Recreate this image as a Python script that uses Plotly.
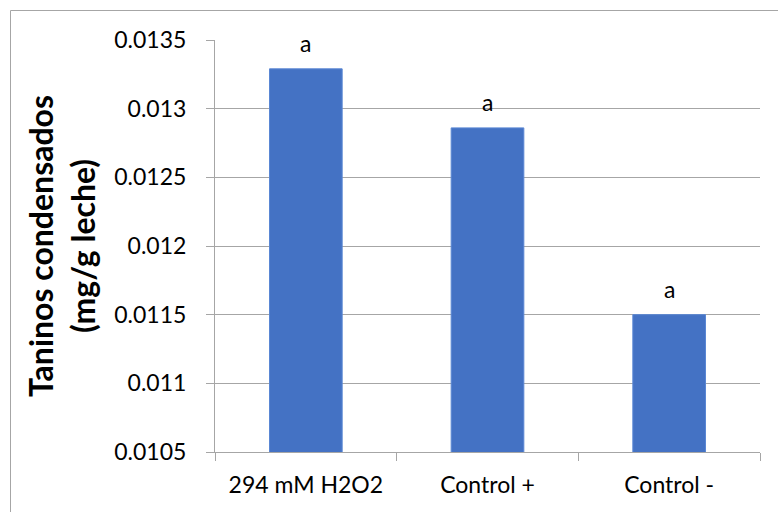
import plotly.graph_objects as go

categories = ["294 mM H2O2", "Control +", "Control -"]
values = [0.01329, 0.01286, 0.01150]
letters = ["a", "a", "a"]
y_ticks = [0.0105, 0.011, 0.0115, 0.012, 0.0125, 0.013, 0.0135]
y_tick_labels = ["0.0105", "0.011", "0.0115", "0.012", "0.0125", "0.013", "0.0135"]

W, H = 778, 512
L, R, T, B = 215, 18, 40, 60
pw, ph = W - L - R, H - T - B

FONT = "Lato, Carlito, Calibri, sans-serif"
GRID = "#A6A6A6"

fig = go.Figure()
fig.add_trace(go.Bar(
    x=categories, y=values,
    marker=dict(color="#4472C4", line=dict(color="#5A87D4", width=1)),
    width=0.4,
))

for c, v, t in zip(categories, values, letters):
    fig.add_annotation(x=c, y=v, text=t, showarrow=False, yshift=26,
                       font=dict(family=FONT, size=23, color="#000000"))

def px_to_paper_x(px):
    return (px - L) / pw

def px_to_paper_y(py):
    return (H - B - py) / ph

fig.add_shape(type="rect", xref="paper", yref="paper",
              x0=px_to_paper_x(10.5), x1=px_to_paper_x(800),
              y0=px_to_paper_y(540), y1=px_to_paper_y(10.5),
              line=dict(color=GRID, width=1), layer="below")

fig.update_layout(
    width=W, height=H,
    margin=dict(l=L, r=R, t=T, b=B),
    paper_bgcolor="white", plot_bgcolor="white",
    showlegend=False,
    font=dict(family=FONT, size=23, color="#000000"),
    xaxis=dict(
        showline=True, linecolor=GRID, linewidth=1,
        ticks="outside", tickson="boundaries", ticklen=8, tickcolor=GRID,
        tickfont=dict(family=FONT, size=23, color="#000000"),
        ticklabelstandoff=12,
        showgrid=False,
    ),
    yaxis=dict(
        range=[0.0105, 0.0135],
        tickvals=y_ticks, ticktext=y_tick_labels,
        showline=True, linecolor=GRID, linewidth=1,
        ticks="outside", ticklen=8, tickcolor=GRID,
        showgrid=True, gridcolor=GRID, gridwidth=1,
        zeroline=False,
        tickfont=dict(family=FONT, size=23, color="#000000"),
        ticklabelstandoff=15,
        title=dict(text="<b>Taninos condensados<br>(mg/g leche)</b>",
                   font=dict(family=FONT, size=32, color="#000000"),
                   standoff=9),
    ),
)

fig.write_html("out.html")
